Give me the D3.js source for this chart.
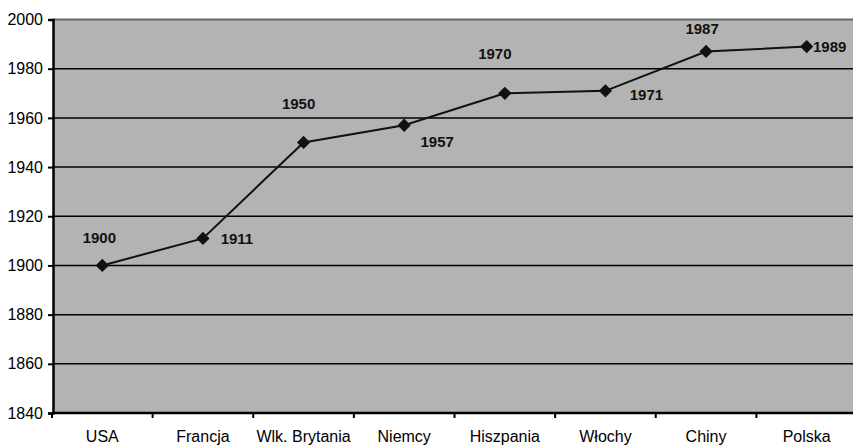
<!DOCTYPE html>
<html>
<head>
<meta charset="utf-8">
<script src="https://cdn.jsdelivr.net/npm/d3@7"></script>
<style>
  body { margin: 0; background: #fff; }
  text { font-family: "Liberation Sans", Arial, sans-serif; }
</style>
</head>
<body>
<svg id="chart"></svg>
<script>
var countries = ["USA", "Francja", "Wlk. Brytania", "Niemcy", "Hiszpania", "Włochy", "Chiny", "Polska"];
var years = [1900, 1911, 1950, 1957, 1970, 1971, 1987, 1989];
var yTicks = [1840, 1860, 1880, 1900, 1920, 1940, 1960, 1980, 2000];

// label offsets from the marker (centre of text), like hand-dragged Excel labels
var labelDx = [-3, 34, -5, 33, -10, 41, -4, 23];
var labelDy = [-28, 0, -39, 16, -40, 4, -23, 0];

var width = 853, height = 446;
var svg = d3.select("#chart")
    .attr("width", width)
    .attr("height", height);

var x = d3.scaleBand()
    .domain(countries)
    .range([52, 857]);

var y = d3.scaleLinear()
    .domain([1840, 2000])
    .range([413, 19.5]);

// plot background
svg.append("rect")
    .attr("x", 53)
    .attr("y", y(2000))
    .attr("width", width - 53)
    .attr("height", y(1840) - y(2000))
    .attr("fill", "#b3b3b3");

// gridlines
svg.selectAll(".grid")
    .data(yTicks.filter(function(d) { return d > 1840; }))
    .enter()
    .append("line")
    .attr("x1", 53)
    .attr("x2", width)
    .attr("y1", function(d) { return y(d); })
    .attr("y2", function(d) { return y(d); })
    .attr("stroke", function(d) { return d == 2000 ? "#666" : "#000"; })
    .attr("stroke-width", function(d) { return d == 2000 ? 2 : 1.5; });

// y axis
var yAxis = d3.axisLeft(y)
    .tickValues(yTicks)
    .tickFormat(d3.format("d"))
    .tickSize(5)
    .tickPadding(5);

var gy = svg.append("g")
    .attr("transform", "translate(53,0)")
    .call(yAxis);
gy.select(".domain").attr("stroke", "#000").attr("stroke-width", 2.5);
gy.selectAll(".tick line").attr("stroke", "#000").attr("stroke-width", 2);
gy.selectAll(".tick text")
    .attr("font-size", 16)
    .attr("fill", "#000")
    .style("font-family", "'Liberation Sans', Arial, sans-serif");

// x axis
var xAxis = d3.axisBottom(x)
    .tickSize(0)
    .tickPadding(18);

var gx = svg.append("g")
    .attr("transform", "translate(0," + y(1840) + ")")
    .call(xAxis);
gx.select(".domain").remove();
gx.selectAll(".tick text")
    .attr("font-size", 16)
    .attr("fill", "#000")
    .style("font-family", "'Liberation Sans', Arial, sans-serif");

svg.append("line")
    .attr("x1", 52)
    .attr("x2", width)
    .attr("y1", y(1840))
    .attr("y2", y(1840))
    .attr("stroke", "#000")
    .attr("stroke-width", 2.5);

// category separator ticks
svg.selectAll(".ctick")
    .data(countries)
    .enter()
    .append("line")
    .attr("x1", function(d) { return x(d); })
    .attr("x2", function(d) { return x(d); })
    .attr("y1", y(1840))
    .attr("y2", y(1840) + 5)
    .attr("stroke", "#000")
    .attr("stroke-width", 2);

var cx = function(d, i) { return x(countries[i]) + x.bandwidth() / 2; };

var line = d3.line()
    .x(function(d, i) { return cx(d, i); })
    .y(function(d) { return y(d); });

svg.append("path")
    .datum(years)
    .attr("d", line)
    .attr("fill", "none")
    .attr("stroke", "#111")
    .attr("stroke-width", 2);

svg.selectAll(".dot")
    .data(years)
    .enter()
    .append("path")
    .attr("d", d3.symbol().type(d3.symbolSquare).size(88))
    .attr("transform", function(d, i) {
        return "translate(" + cx(d, i) + "," + y(d) + ") rotate(45)";
    })
    .attr("fill", "#111");

svg.selectAll(".label")
    .data(years)
    .enter()
    .append("text")
    .attr("x", function(d, i) { return cx(d, i) + labelDx[i]; })
    .attr("y", function(d, i) { return y(d) + labelDy[i]; })
    .attr("dy", "0.36em")
    .attr("text-anchor", "middle")
    .attr("font-size", 15)
    .attr("font-weight", "bold")
    .attr("fill", "#111")
    .text(function(d) { return d; });
</script>
</body>
</html>
